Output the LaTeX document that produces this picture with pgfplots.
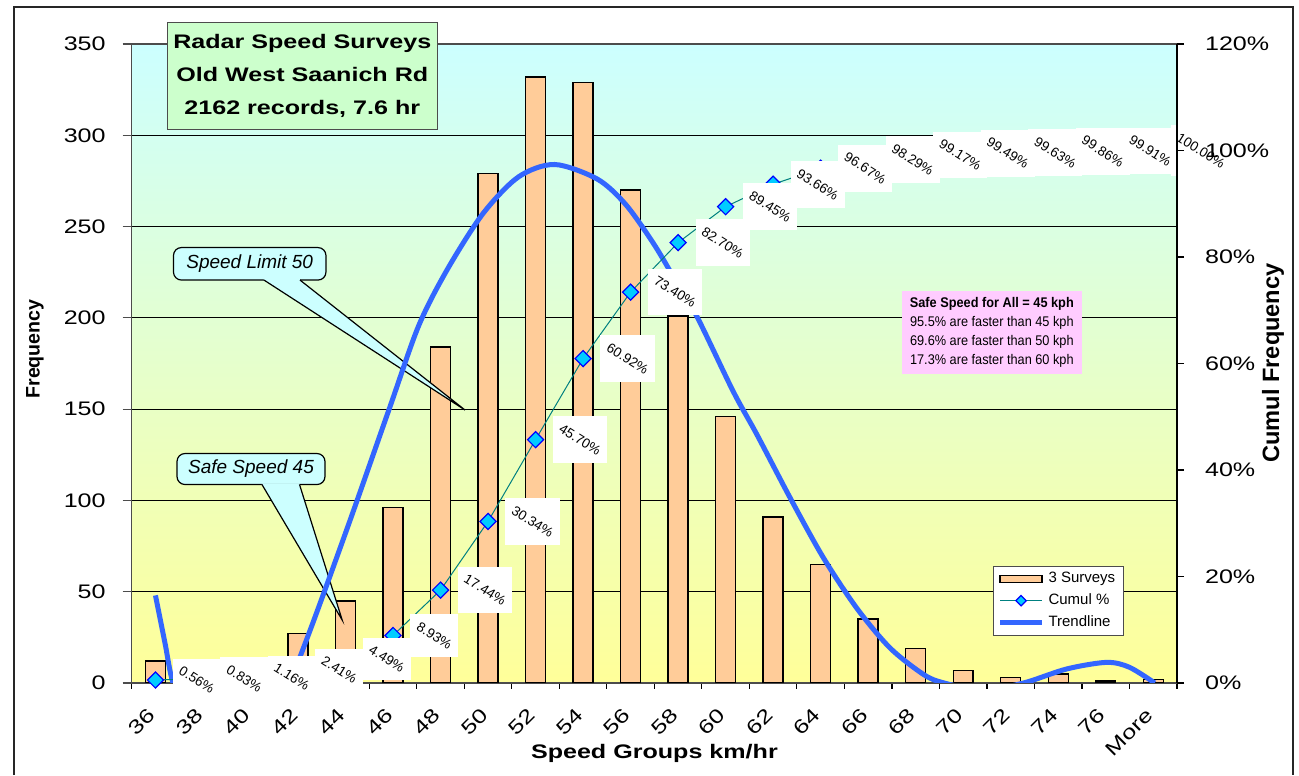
\documentclass[border=0pt]{standalone}
\usepackage{pgfplots}
\usepackage{pgfplotstable}
\pgfplotsset{compat=1.18}
\usepackage{fontspec}
\setmainfont{Liberation Sans}
\newfontfamily\widefont{Liberation Sans}[FakeStretch=1.28]
\newfontfamily\narrowfont{Liberation Sans}[FakeStretch=0.91]
\definecolor{peach}{HTML}{FFCC99}
\definecolor{mkfill}{HTML}{00CCFF}
\definecolor{mkdraw}{HTML}{0000FF}
\definecolor{cumline}{HTML}{008080}
\definecolor{trend}{HTML}{3366FF}
\definecolor{bgtop}{HTML}{CCFFFF}
\definecolor{bgbot}{HTML}{FFFF99}
\definecolor{titlegreen}{HTML}{CCFFCC}
\definecolor{pinkbox}{HTML}{FFCCFF}
\definecolor{callout}{HTML}{CCFFFF}

\pgfplotstableread{
x y
0 12
1 6
2 7
3 27
4 45
5 96
6 184
7 279
8 332
9 329
10 270
11 201
12 146
13 91
14 65
15 35
16 19
17 7
18 3
19 5
20 1
21 2
}\freqtable

\pgfplotstableread{
x y
0 0.56
1 0.83
2 1.16
3 2.41
4 4.49
5 8.93
6 17.44
7 30.34
8 45.70
9 60.92
10 73.40
11 82.70
12 89.45
13 93.66
14 96.67
15 98.29
16 99.17
17 99.49
18 99.63
19 99.86
20 99.91
21 100.00
}\cumtable

\pgfplotstableread{
x y
0 48
0.2 22
0.37 0
0.7 -18
1.2 -30
1.8 -26
2.3 -13
2.83 0
2.98 10
3.3 32
3.66 57.6
4.19 96
4.94 151.6
5.54 195.7
6.14 226.4
6.89 257
7.64 277.2
8.4 284
9.3 276
9.9 262
10.5 240
11.0 218
11.42 199.5
12.16 159.7
12.66 136
13.36 101.3
14.06 68.5
14.76 41
15.46 19.2
16.17 4.6
16.6 0
17.4 -4
18.27 0
19.18 7.7
20.02 11.3
20.5 8.6
21.03 0
}\trendtable

\begin{document}
\begin{tikzpicture}
\begin{scope}[x=0.5pt,y=-0.5pt,shift={(-131.7,-683)}]
\useasboundingbox (0,0) rectangle (1299,770);
\end{scope}

\begin{axis}[
  at={(0,0)}, anchor=south west,
  scale only axis, width=522.65pt, height=319.5pt,
  xmin=-0.5, xmax=21.5, ymin=0, ymax=350,
  xtick={0,...,21},
  xticklabels={},
  minor xtick={-0.5,0.5,...,21.5},
  ytick={0,50,...,350},
  tick align=outside,
  xtick pos=bottom, ytick pos=left,
  major x tick style={draw=none},
  minor x tick style={black, line width=0.6pt},
  minor tick length=3pt,
  major tick length=4.5pt,
  major y tick style={gray!60!black, line width=0.6pt},
  ymajorgrids, major grid style={black, line width=0.5pt},
  axis line style={gray!60!black, line width=0.6pt},
  axis background/.style={shade, top color=bgtop, bottom color=bgbot},
  clip mode=individual,
  /pgf/number format/assume math mode=true,
  ticklabel style={font=\widefont\fontsize{9.8}{11}\selectfont},
  yticklabel style={xshift=-5pt},
]
\addplot[ybar, bar width=0.42, fill=peach, draw=black, line width=0.7pt] table {\freqtable};

% callout: Speed Limit 50
\node[draw=black, fill=callout, line width=0.6pt, rounded corners=4pt, minimum width=76.25pt, minimum height=16.25pt, inner sep=0pt, font=\itshape\fontsize{9.5}{11}\selectfont] at (axis cs:1.984,229.6) {Speed Limit 50};
\fill[callout] (axis cs:2.284,221.3) -- (axis cs:2.284,220.7) -- (axis cs:6.516,149.5) -- (axis cs:3.042,220.7) -- (axis cs:3.042,221.3) -- cycle;
\draw[black, line width=0.6pt] (axis cs:2.284,220.7) -- (axis cs:6.516,149.5) -- (axis cs:3.042,220.7);

% callout: Safe Speed 45
\node[draw=black, fill=callout, line width=0.6pt, rounded corners=4pt, minimum width=74pt, minimum height=15.5pt, inner sep=0pt, font=\itshape\fontsize{9.5}{11}\selectfont] at (axis cs:2.011,117.2) {Safe Speed 45};
\fill[callout] (axis cs:2.242,109.3) -- (axis cs:2.242,108.7) -- (axis cs:3.93,34.5) -- (axis cs:3.032,108.7) -- (axis cs:3.032,109.3) -- cycle;
\draw[black, line width=0.6pt] (axis cs:2.242,108.7) -- (axis cs:3.93,34.5) -- (axis cs:3.032,108.7);

\addplot[trend, line width=2.5pt, smooth, no marks] table {\trendtable};
\end{axis}

\begin{axis}[
  at={(0,0)}, anchor=south west,
  scale only axis, width=522.65pt, height=319.5pt,
  xmin=-0.5, xmax=21.5, ymin=0, ymax=120,
  axis x line=none, axis y line=none,
  clip=false,
  /pgf/number format/assume math mode=true,
  legend style={at={(0.824,0.0736)}, anchor=south west, draw=gray!60!black, line width=0.5pt, fill=white, font=\fontsize{7.5}{9}\selectfont, inner xsep=2pt, inner ysep=1pt, row sep=0pt},
  legend cell align=left,
]
\addlegendimage{legend image code/.code={\draw[fill=peach,draw=black,line width=0.7pt] (0pt,-1.8pt) rectangle (21pt,1.8pt);}}
\addlegendentry{3 Surveys}
\addplot[cumline, line width=0.5pt, mark=square*, mark size=2.85pt,
  mark options={rotate=45, fill=mkfill, draw=mkdraw, line width=0.6pt},
  legend image code/.code={\draw[cumline,line width=0.5pt] (0pt,0pt) -- (21pt,0pt); \draw[fill=mkfill,draw=mkdraw,line width=0.6pt] (10.5pt,2.6pt) -- (13.1pt,0pt) -- (10.5pt,-2.6pt) -- (7.9pt,0pt) -- cycle;}
] table {\cumtable};
\addlegendentry{Cumul \%}
\addplot[draw=none, mark=none, forget plot,
  nodes near coords={\rotatebox{-32}{\fontsize{6.8}{7}\selectfont\pgfmathprintnumber[fixed,fixed zerofill,precision=2]{\pgfplotspointmeta}\%}},
  every node near coord/.style={anchor=west, xshift=8.5pt, fill=white, inner xsep=2.5pt, inner ysep=3.5pt, text=black}
] table {\cumtable};
\addlegendimage{legend image code/.code={\draw[trend,line width=2.5pt] (0pt,0pt) -- (21pt,0pt);}}
\addlegendentry{Trendline}
\end{axis}

\begin{axis}[
  at={(0,0)}, anchor=south west,
  scale only axis, width=522.65pt, height=319.5pt,
  xmin=-0.5, xmax=21.5, ymin=0, ymax=120,
  axis x line=none, axis y line*=right,
  ytick={0,20,...,120},
  yticklabel={\pgfmathprintnumber{\tick}\%},
  tick align=outside, major tick length=3.5pt,
  major y tick style={black, line width=0.6pt},
  axis line style={black, line width=0.6pt},
  /pgf/number format/assume math mode=true,
  ticklabel style={font=\widefont\fontsize{9.8}{11}\selectfont},
  yticklabel style={xshift=7pt},
]
\addplot[draw=none, forget plot] coordinates {(0,0)};
\end{axis}

\begin{scope}[x=0.5pt,y=-0.5pt,shift={(-131.7,-683)}]
\draw[black!85, line width=0.7pt] (14,775) -- (14,7) -- (1293,7) -- (1293,775);
\foreach \lab [count=\i from 0] in {36,38,40,42,44,46,48,50,52,54,56,58,60,62,64,66,68,70,72,74,76,More}
  \node[rotate=45, anchor=east, inner sep=0pt, font=\widefont\fontsize{9.8}{11}\selectfont] at ({152+47.5*\i},712) {\lab};
\node[fill=titlegreen, draw=gray!60!black, line width=0.5pt, minimum width=135pt, minimum height=53.2pt, inner sep=0pt, align=center, font=\widefont\bfseries\fontsize{9.8}{16.5}\selectfont] at (302.3,75.85) {Radar Speed Surveys\\Old West Saanich Rd\\2162 records, 7.6 hr};
\node[fill=pinkbox, minimum width=89.85pt, minimum height=41.35pt, inner sep=0pt, align=center, font=\narrowfont\fontsize{7}{9.5}\selectfont] at (991.85,332.65) {\textbf{Safe Speed for All = 45 kph}\\95.5\% are faster than 45 kph\\69.6\% are faster than 50 kph\\17.3\% are faster than 60 kph};
\node[font=\widefont\bfseries\fontsize{9.8}{11}\selectfont] at (654.4,753) {Speed Groups km/hr};
\node[rotate=90, font=\bfseries\fontsize{9.8}{11}\selectfont] at (35,349) {Frequency};
\node[rotate=90, font=\bfseries\fontsize{11.8}{13}\selectfont] at (1273,363) {Cumul Frequency};
\end{scope}
\end{tikzpicture}
\end{document}
